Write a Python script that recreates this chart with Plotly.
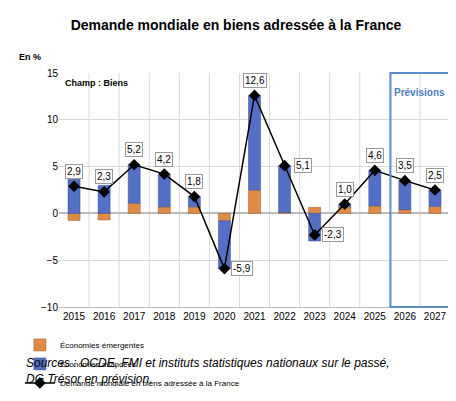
import plotly.graph_objects as go

annees = list(range(2015, 2028))
avancees = [3.65, 3.0, 4.1, 3.5, 1.1, -5.1, 10.1, 5.0, -2.95, 0.3, 3.8, 3.1, 1.75]
emergentes = [-0.75, -0.7, 1.1, 0.7, 0.7, -0.8, 2.5, 0.1, 0.65, 0.7, 0.8, 0.4, 0.75]
demande = [2.9, 2.3, 5.2, 4.2, 1.8, -5.9, 12.6, 5.1, -2.3, 1.0, 4.6, 3.5, 2.5]
etiquettes = ["2,9", "2,3", "5,2", "4,2", "1,8", "-5,9", "12,6", "5,1", "-2,3", "1,0", "4,6", "3,5", "2,5"]

fig = go.Figure()
fig.add_trace(go.Bar(x=annees, y=emergentes, name="Économies émergentes",
                     marker=dict(color="#E08B45", line=dict(color="#8a5a30", width=0.5))))
fig.add_trace(go.Bar(x=annees, y=avancees, name="Économies avancées",
                     marker=dict(color="#5470C6", line=dict(color="#3a4f90", width=0.5))))
fig.add_trace(go.Scatter(x=annees, y=demande, mode="lines+markers",
                         name="Demande mondiale en biens adressée à la France",
                         line=dict(color="black", width=1.5),
                         marker=dict(symbol="diamond", size=9, color="black")))

# étiquettes de valeur encadrées
for a, v, t in zip(annees, demande, etiquettes):
    if a in (2020, 2022, 2023):
        kw = dict(xshift=18, yshift=0)
    else:
        kw = dict(xshift=0, yshift=15)
    fig.add_annotation(x=a, y=v, text=t, showarrow=False, **kw,
                       bordercolor="#999", borderwidth=1, bgcolor="white",
                       font=dict(size=10, color="black"), borderpad=1)

for k in range(12):
    fig.add_shape(type="line", xref="x", yref="paper", x0=2015.5 + k, x1=2015.5 + k, y0=0, y1=1,
                  line=dict(color="#d9d9d9", width=1), layer="below")
fig.add_shape(type="rect", xref="x", yref="paper", x0=2025.52, x1=2027.48, y0=0, y1=1,
              line=dict(color="#5B8FC8", width=2))
fig.add_annotation(x=2026.5, y=12.9, text="<b>Prévisions</b>", showarrow=False,
                   font=dict(size=10, color="#4a7fc0"))
fig.add_annotation(x=0.01, xref="paper", y=13.9, text="<b>Champ : Biens</b>", showarrow=False,
                   xanchor="left", font=dict(size=9, color="black"))
fig.add_annotation(x=-0.04, xref="paper", y=1.04, yref="paper", text="<b>En %</b>",
                   showarrow=False, xanchor="right", yanchor="bottom", font=dict(size=9))
fig.add_annotation(x=-0.09, xref="paper", y=-0.2, yref="paper",
                   text="<i>Sources : OCDE, FMI et instituts statistiques nationaux sur le passé,<br>DG Trésor en prévision.</i>",
                   showarrow=False, xanchor="left", yanchor="top", align="left",
                   font=dict(size=12, color="black"))

fig.update_layout(
    barmode="relative", bargap=0.6,
    width=456, height=401,
    title=dict(text="<b>Demande mondiale en biens adressée à la France</b>", x=0.5, y=0.97,
               font=dict(size=14, color="black")),
    font=dict(family="Liberation Sans, Arial", size=10, color="black"),
    plot_bgcolor="white", paper_bgcolor="white",
    margin=dict(l=38, r=14, t=65, b=94),
    showlegend=True,
    legend=dict(orientation="h", x=-0.1, y=-0.1, xanchor="left", yanchor="top",
                font=dict(size=8), itemwidth=30, entrywidth=0, traceorder="normal",
                bgcolor="rgba(0,0,0,0)"),
    xaxis=dict(showgrid=False, tickfont=dict(size=10), linecolor="#bbb",
               ticks="", tickmode="array", tickvals=annees,
               range=[2014.5, 2027.5]),
    yaxis=dict(range=[-10, 15], dtick=5, gridcolor="#d9d9d9", zeroline=True,
               zerolinecolor="#bbb", tickfont=dict(size=10), showline=False),
)

fig.write_html("out.html")
